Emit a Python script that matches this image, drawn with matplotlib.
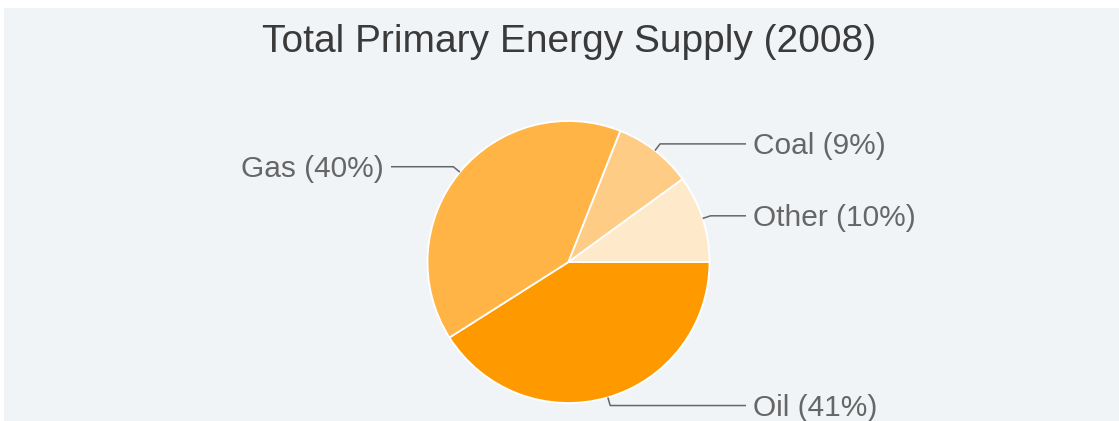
import numpy as np
import matplotlib
matplotlib.use("Agg")
import matplotlib.pyplot as plt
from matplotlib.patches import Rectangle

# ---- data ----
categories = ["Oil", "Gas", "Coal", "Other"]
shares = [41, 40, 9, 10]
colors = ["#FF9900", "#FFB445", "#FFCC85", "#FFE9CB"]
title = "Total Primary Energy Supply (2008)"

# ---- layout ----
W, H = 1119, 421
cx, cy_top = 568.5, 262.0
R = 141.0
bg = "#F1F4F7"

plt.rcParams['font.family'] = ['Liberation Sans', 'DejaVu Sans']

fig = plt.figure(figsize=(W / 100, H / 100), dpi=100)
fig.patch.set_facecolor("white")
fig.patches.append(Rectangle((4 / W, 0), 1 - 4 / W, (H - 8) / H,
                             transform=fig.transFigure, facecolor=bg,
                             edgecolor="none", zorder=-5))

ax = fig.add_axes([0, 0, 1, 1])
ax.set_zorder(2)
ax.patch.set_alpha(0)
cy = H - cy_top
wedges, _ = ax.pie(shares, colors=colors, startangle=0, counterclock=False,
                   center=(cx, cy), radius=R, frame=True,
                   wedgeprops=dict(edgecolor="white", linewidth=1.3))
ax.set_xlim(0, W)
ax.set_ylim(0, H)
ax.set_aspect("equal")
ax.axis("off")

line_col = "#666666"
text_col = "#666666"
for w, cat, s in zip(wedges, categories, shares):
    mid = np.deg2rad((w.theta1 + w.theta2) / 2)
    ex, ey = cx + R * np.cos(mid), cy + R * np.sin(mid)
    bx, by = cx + 1.06 * R * np.cos(mid), cy + 1.06 * R * np.sin(mid)
    side = 1 if np.cos(mid) >= 0 else -1
    lx = cx + side * 177.5
    ax.plot([ex, bx, lx], [ey, by, by], color=line_col, lw=1.1,
            solid_capstyle="butt", zorder=5)
    ax.text(lx + side * 7, by - 2, f"{cat} ({s}%)", ha="left" if side > 0 else "right",
            va="center", fontsize=21.5, color=text_col, zorder=6)

fig.text(569 / W, 1 - 42 / H, title, ha="center", va="center",
         fontsize=28, color="#3A3A3A", zorder=10)

fig.savefig("out.png", dpi=100, facecolor=fig.get_facecolor())
